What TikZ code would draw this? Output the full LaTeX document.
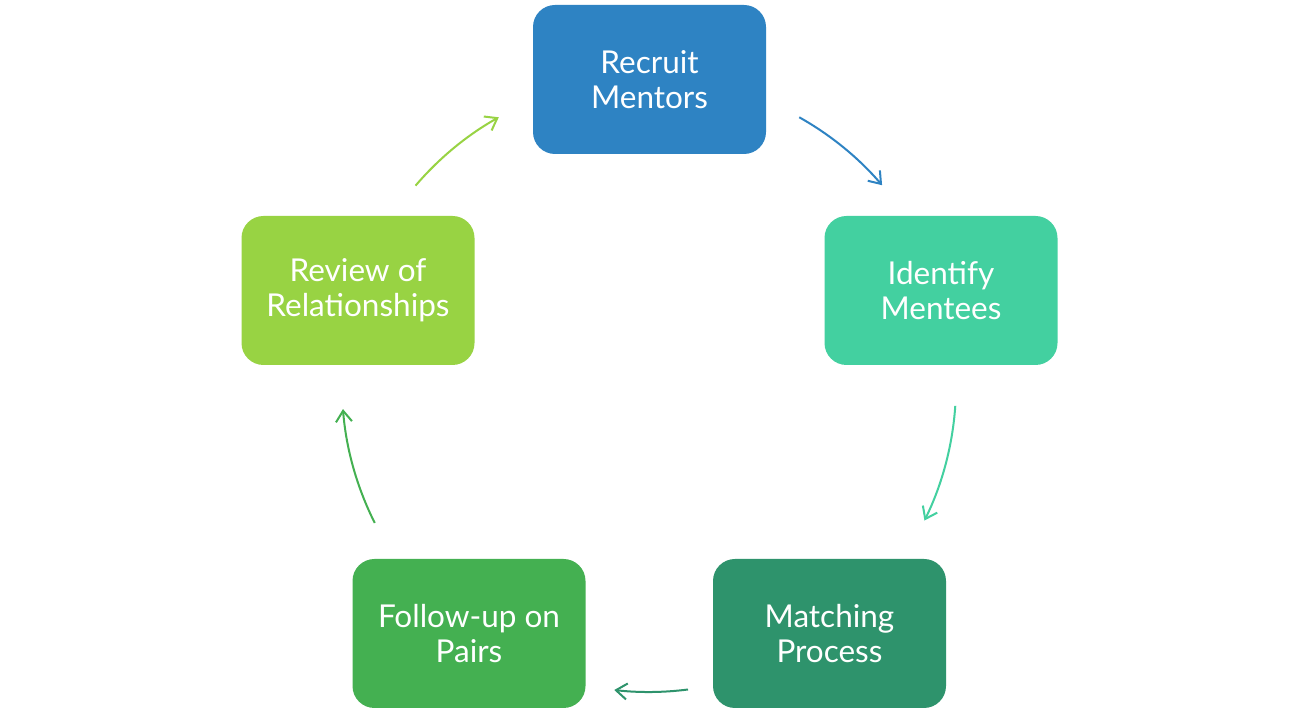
\documentclass[tikz,border=0pt]{standalone}
\usepackage{fontspec}
\setmainfont{Lato}
\usetikzlibrary{arrows.meta,calc}
\definecolor{cBlue}{HTML}{2E83C3}
\definecolor{cTeal}{HTML}{43D0A0}
\definecolor{cDark}{HTML}{2E936C}
\definecolor{cGreen}{HTML}{44B051}
\definecolor{cLime}{HTML}{98D343}
\tikzset{
  stepbox/.style={draw=none, rounded corners=22pt, minimum width=233pt, minimum height=149pt,
    text=white, align=center, font=\fontsize{31.5}{35}\selectfont, inner sep=0pt},
  cyc/.style={line width=2pt, -{Straight Barb[length=11pt,width=16pt,line width=2pt]}}
}
\begin{document}
\begin{tikzpicture}[x=1pt,y=1pt]
\useasboundingbox (0,0) rectangle (1298,722);
\fill[white] (0,0) rectangle (1298,722);
\node[stepbox, fill=cBlue]  (rec) at (649.5,642.5) {Recruit\\Mentors};
\node[stepbox, fill=cTeal]  (ide) at (941,431.5) {Identify\\Mentees};
\node[stepbox, fill=cDark]  (mat) at (829.5,88.5) {Matching\\Process};
\node[stepbox, fill=cGreen] (fol) at (469,88.5) {Follow-up on\\Pairs};
\node[stepbox, fill=cLime]  (rev) at (358,431.5) {Review of\\Relationships};
\coordinate (c) at (649,337);
\coordinate (a1) at ($(c)+(60.7:307)$);
\coordinate (a2) at ($(c)+(-3.9:307)$);
\coordinate (a3) at ($(c)+(-82.7:307)$);
\coordinate (a4) at ($(c)+(206.7:307)$);
\coordinate (a5) at ($(c)+(139.5:307)$);
\draw[cyc, cBlue]  (a1) arc[start angle=60.7, end angle=40.6, radius=307];
\draw[cyc, cTeal]  (a2) arc[start angle=-3.9, end angle=-26.2, radius=307];
\draw[cyc, cDark]  (a3) arc[start angle=-82.7, end angle=-96.5, radius=307];
\draw[cyc, cGreen] (a4) arc[start angle=206.7, end angle=184.5, radius=307];
\draw[cyc, cLime]  (a5) arc[start angle=139.5, end angle=119.3, radius=307];
\end{tikzpicture}
\end{document}
